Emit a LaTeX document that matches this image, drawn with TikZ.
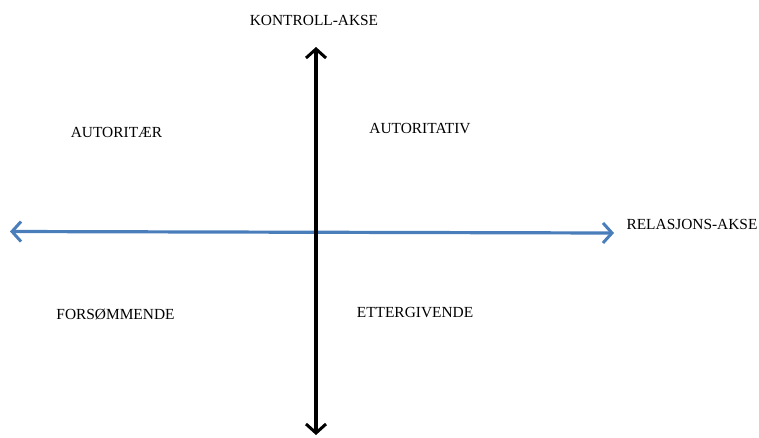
\documentclass[tikz,border=0pt]{standalone}
\usepackage{fontspec}
\setmainfont{Liberation Serif}
\usetikzlibrary{arrows.meta}
\definecolor{axisblue}{HTML}{4A7EBB}
\begin{document}
\begin{tikzpicture}[x=1pt,y=-1pt,
  lbl/.style={font=\fontsize{15.4}{17}\selectfont, inner sep=0pt, anchor=center},
  barb/.style={Straight Barb[length=9pt,width=20pt,line width=3pt]},
  vaxis/.style={line width=3.2pt, black, {Straight Barb[length=9pt,width=20pt,line width=3pt]}-{Straight Barb[length=9pt,width=20pt,line width=3pt]}},
  haxis/.style={line width=3.2pt, axisblue, {Straight Barb[length=9pt,width=20pt,line width=3pt]}-{Straight Barb[length=9pt,width=20pt,line width=3pt]}}]
\useasboundingbox (0,0) rectangle (759,437);
\coordinate (ctop) at (316,47);
\coordinate (cbot) at (316,435);
\coordinate (hleft) at (10,231.5);
\coordinate (hright) at (614,233);
\draw[haxis] (hleft) -- (hright);
\draw[vaxis] (ctop) -- (cbot);
\node[lbl] (kontroll) at (314,20) {KONTROLL-AKSE};
\node[lbl] (relasjon) at (692,224) {RELASJONS-AKSE};
\node[lbl] (autoritaer) at (116.5,132) {AUTORITÆR};
\node[lbl] (autoritativ) at (420,129) {AUTORITATIV};
\node[lbl] (forsommende) at (115.5,314) {FORSØMMENDE};
\node[lbl] (ettergivende) at (415,313) {ETTERGIVENDE};
\end{tikzpicture}
\end{document}
